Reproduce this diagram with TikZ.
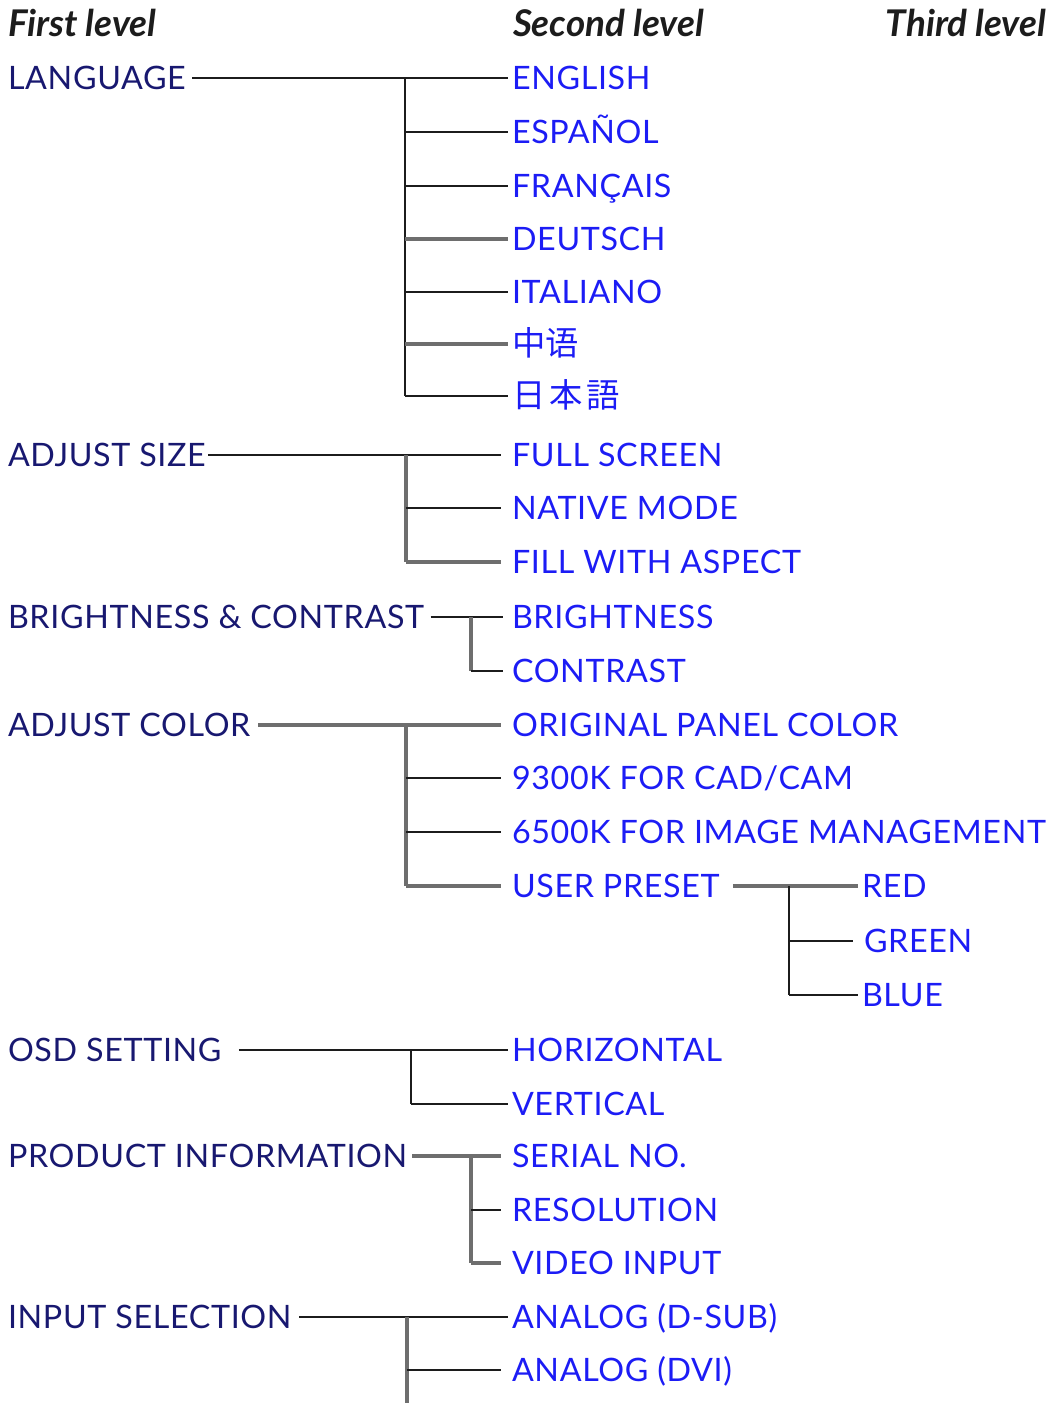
\documentclass[tikz,border=0pt]{standalone}
\usepackage{fontspec}
\setmainfont{Lato}[LetterSpace=2.0]
\newfontfamily\headfont{Lato}
\newfontfamily\cjksc{Noto Sans CJK SC}
\newfontfamily\cjkjp{Noto Sans CJK JP}
\definecolor{navy}{RGB}{24,24,112}
\definecolor{lblue}{RGB}{28,28,245}
\definecolor{lgray}{RGB}{110,110,110}
\definecolor{ldark}{RGB}{28,28,28}
\begin{document}
\begin{tikzpicture}[x=0.75pt,y=-0.75pt,
  every node/.style={anchor=west,inner sep=0pt,outer sep=0pt,
    font=\fontsize{24.2}{28}\selectfont,text height=17.4pt,text depth=0pt},
  lvone/.style={text=navy},
  lvtwo/.style={text=lblue},
  head/.style={text=ldark,font=\headfont\fontsize{27.6}{31}\selectfont\bfseries\itshape},
  kline/.style={draw=ldark,line width=1.7pt},
  gline/.style={draw=lgray,line width=2.3pt},
  endgap/.style={shorten >=3pt},
]
\useasboundingbox (0,0) rectangle (1051,1403);

% headers
\node[head] (h1) at (8,25) {First level};
\node[head] (h2) at (513,25) {Second level};
\node[head,anchor=east] (h3) at (1046,25) {Third level};

% first level
\node[lvone] (lang) at (8,78)   {LANGUAGE};
\node[lvone] (asz)  at (8,455)  {ADJUST SIZE};
\node[lvone] (bc)   at (8,617)  {BRIGHTNESS \& CONTRAST};
\node[lvone] (ac)   at (8,725)  {ADJUST COLOR};
\node[lvone] (osd)  at (8,1050) {OSD SETTING};
\node[lvone] (pi)   at (8,1156) {PRODUCT INFORMATION};
\node[lvone] (isel) at (8,1317) {INPUT SELECTION};

% second level
\node[lvtwo] (en) at (512,78)  {ENGLISH};
\node[lvtwo] (es) at (512,132) {ESPAÑOL};
\node[lvtwo] (fr) at (512,186) {FRANÇAIS};
\node[lvtwo] (de) at (512,239) {DEUTSCH};
\node[lvtwo] (it) at (512,292) {ITALIANO};
\node[lvtwo,font=\fontsize{25}{28}\cjksc] (zh) at (512,344) {中语};
\node[lvtwo,font=\fontsize{25}{28}\cjkjp] (ja) at (512,396) {日\kern3pt 本\kern3pt 語};

\node[lvtwo] (fs) at (512,455) {FULL SCREEN};
\node[lvtwo] (nm) at (512,508) {NATIVE MODE};
\node[lvtwo] (fa) at (512,562) {FILL WITH ASPECT};

\node[lvtwo] (br) at (512,617) {BRIGHTNESS};
\node[lvtwo] (ct) at (512,671) {CONTRAST};

\node[lvtwo] (op)  at (512,725) {ORIGINAL PANEL COLOR};
\node[lvtwo] (c93) at (512,778) {9300K FOR CAD/CAM};
\node[lvtwo] (c65) at (512,832) {6500K FOR IMAGE MANAGEMENT};
\node[lvtwo] (up)  at (512,886) {USER PRESET};

\node[lvtwo] (hz) at (512,1050) {HORIZONTAL};
\node[lvtwo] (vt) at (512,1104) {VERTICAL};

\node[lvtwo] (sn) at (512,1156) {SERIAL NO.};
\node[lvtwo] (rs) at (512,1210) {RESOLUTION};
\node[lvtwo] (vi) at (512,1263) {VIDEO INPUT};

\node[lvtwo] (ad) at (512,1317) {ANALOG (D-SUB)};
\node[lvtwo] (dv) at (512,1370) {ANALOG (DVI)};

% third level
\node[lvtwo] (red)   at (862,886) {RED};
\node[lvtwo] (green) at (864,941) {GREEN};
\node[lvtwo] (blue)  at (862,995) {BLUE};

% junctions
\coordinate (jl)  at (405,78);
\coordinate (jas) at (406,455);
\coordinate (jbc) at (471,617);
\coordinate (jac) at (406,725);
\coordinate (jup) at (789,886);
\coordinate (jos) at (411,1050);
\coordinate (jpi) at (471,1156);
\coordinate (jis) at (407,1317);
\coordinate (iend) at (407,1403);

% LANGUAGE
\draw[kline,endgap] ([xshift=5pt]lang.east) -- (en.west);
\draw[kline] (jl) -- (jl |- ja.west);
\draw[kline,endgap] (jl |- es.west) -- (es.west);
\draw[kline,endgap] (jl |- fr.west) -- (fr.west);
\draw[gline,endgap] (jl |- de.west) -- (de.west);
\draw[kline,endgap] (jl |- it.west) -- (it.west);
\draw[gline,endgap] (jl |- zh.west) -- (zh.west);
\draw[kline,endgap] (jl |- ja.west) -- (ja.west);

% ADJUST SIZE
\draw[kline,shorten >=8pt] ([xshift=2pt]asz.east) -- (fs.west);
\draw[gline] (jas) -- (jas |- fa.west);
\draw[kline,shorten >=8pt] (jas |- nm.west) -- (nm.west);
\draw[gline,shorten >=8pt] (jas |- fa.west) -- (fa.west);

% BRIGHTNESS & CONTRAST
\draw[kline,shorten >=7pt] ([xshift=5pt]bc.east) -- (br.west);
\draw[gline] (jbc) -- (jbc |- ct.west);
\draw[kline,shorten >=7pt] (jbc |- ct.west) -- (ct.west);

% ADJUST COLOR
\draw[gline,shorten >=8pt] ([xshift=6pt]ac.east) -- (op.west);
\draw[gline] (jac) -- (jac |- up.west);
\draw[kline,shorten >=8pt] (jac |- c93.west) -- (c93.west);
\draw[kline,shorten >=8pt] (jac |- c65.west) -- (c65.west);
\draw[gline,shorten >=8pt] (jac |- up.west) -- (up.west);

% USER PRESET
\draw[gline,endgap] ([xshift=10pt]up.east) -- (red.west);
\draw[kline] (jup) -- (jup |- blue.west);
\draw[kline,shorten >=8pt] (jup |- green.west) -- (green.west);
\draw[kline,endgap] (jup |- blue.west) -- (blue.west);

% OSD SETTING
\draw[kline,endgap] ([xshift=13pt]osd.east) -- (hz.west);
\draw[kline] (jos) -- (jos |- vt.west);
\draw[kline,endgap] (jos |- vt.west) -- (vt.west);

% PRODUCT INFORMATION
\draw[gline,shorten >=8pt] ([xshift=4pt]pi.east) -- (sn.west);
\draw[gline] (jpi) -- (jpi |- vi.west);
\draw[kline,shorten >=8pt] (jpi |- rs.west) -- (rs.west);
\draw[gline,shorten >=8pt] (jpi |- vi.west) -- (vi.west);

% INPUT SELECTION
\draw[kline,endgap] ([xshift=6pt]isel.east) -- (ad.west);
\draw[gline] (jis) -- (iend);
\draw[kline,shorten >=8pt] (jis |- dv.west) -- (dv.west);
\end{tikzpicture}
\end{document}
